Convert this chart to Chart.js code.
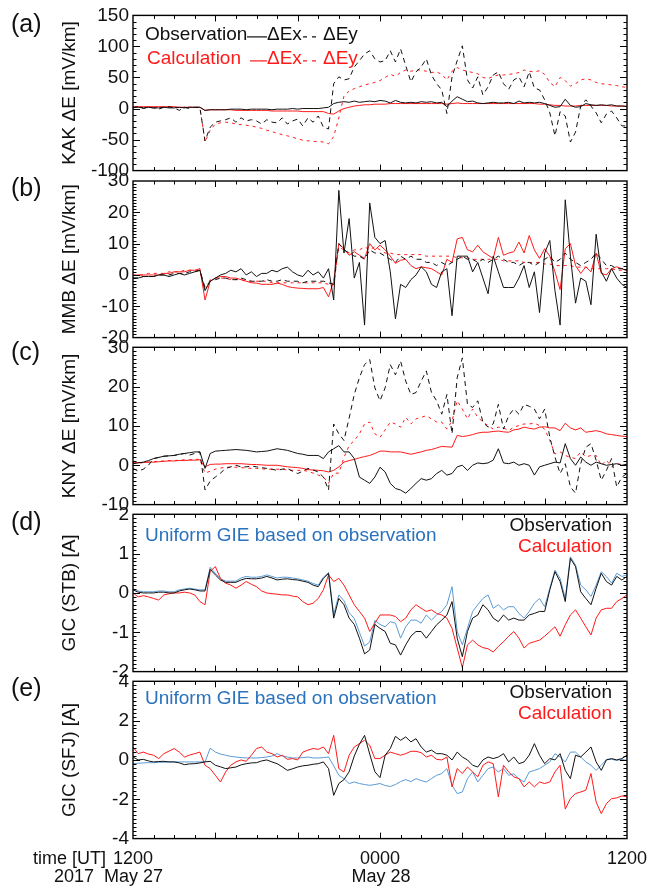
<!DOCTYPE html>
<html>
<head>
<meta charset="utf-8">
<script src="https://cdn.jsdelivr.net/npm/chart.js@4.4.1/dist/chart.umd.min.js"></script>
<style>
  body { margin: 0; background: #fff; }
  #page { position: relative; width: 648px; height: 888px; overflow: hidden; font-family: "Liberation Sans", Arial, Helvetica, sans-serif; }
  canvas { position: absolute; left: 0; }
  .lbl { position: absolute; font-size: 18px; line-height: 18px; color: #111; white-space: pre; }
</style>
</head>
<body>
<div id="page">
  <canvas id="pa" width="648" height="186" style="top:0px"></canvas>
  <canvas id="pb" width="648" height="189" style="top:164px"></canvas>
  <canvas id="pc" width="648" height="189" style="top:331px"></canvas>
  <canvas id="pd" width="648" height="189" style="top:498px"></canvas>
  <canvas id="pe" width="648" height="189" style="top:665px"></canvas>
</div>
<script>
const FONT = '"Liberation Sans", Arial, Helvetica, sans-serif';

// sample times, hours after 0000 UT May 27 (every 15 min)
const hours = Array.from({ length: 97 }, (_, i) => 12 + i / 4);

// bottom time axis
const timeTicks = [12, 24, 36];
const timeLabels = ['1200', '0000', '1200'];

// y tick values per panel
const aTicks = [-100, -50, 0, 50, 100, 150];
const bTicks = [-20, -10, 0, 10, 20, 30];
const cTicks = [-10, 0, 10, 20, 30];
const dTicks = [-2, -1, 0, 1, 2];
const eTicks = [-4, -2, 0, 2, 4];

// (a) KAK  [mV/km]
const aObsEx = [
  2, 2, 1, 2,   1, 1, 2, 1,   1, 2, 1, 2,   2, 2, -3, -2,
  -2, -2, -2, -1,   -1, -1, -2, -1,   -1, -1, -1, -2,   -1, -1, -1, 0,
  -1, 0, 0, 0,   0, 1, 2, 8,   10, 11, 10, 12,   10, 11, 12, 11,
  13, 12, 9, 13,   10, 9, 10, 9,   11, 10, 11, 9,   10, 3, 12, 19,
  15, 11, 12, 9,   8, 9, 10, 9,   9, 10, 8, 12,   9, 10, 9, 10,
  8, 5, 2, 3,   15, 5, 2, 3,   8, 6, 5, 6,   5, 6, 4, 4,
  3];
const aObsEy = [
  1, 3, 0, 2,   1, -1, 2, 3,   1, -3, 2, 0,   2, 1, -52, -30,
  -22, -20, -18, -15,   -22, -15, -20, -18,   -20, -25, -18, -22,   -23, -15, -25, -20,
  -17, -28, -15, -22,   -12, -30, -33, 40,   51, 46, 48, 67,   77, 88, 93, 80,
  75, 77, 93, 75,   96, 69, 43, 59,   67, 80, 54, 40,   30, -8, 51, 77,
  101, 46, 33, 51,   22, 35, 54, 59,   40, 31, 46, 51,   35, 59, 33, 30,
  14, -7, -44, -5,   -12, -54, -38, 4,   14, 4, -7, -23,   -9, -4, -15, -28,
  -28];
const aCalcEx = [
  3, 3, 3, 3,   3, 3, 3, 3,   3, 2, 2, 2,   2, 2, -3, -2,
  -2, -2, -2, -2,   -3, -3, -3, -3,   -3, -3, -3, -4,   -4, -4, -4, -4,
  -4, -5, -5, -5,   -5, -5, -8, -9,   -4, 0, 2, 4,   5, 6, 6, 7,
  7, 7, 8, 8,   8, 8, 8, 8,   8, 8, 8, 8,   8, 7, 8, 9,
  8, 8, 8, 8,   8, 8, 8, 8,   8, 8, 8, 8,   8, 8, 8, 7,
  7, 6, 5, 5,   4, 4, 4, 5,   5, 5, 5, 5,   5, 4, 4, 4,
  4];
const aCalcEy = [
  2, 2, 2, 2,   2, 1, 2, 2,   2, 1, 2, 2,   2, 2, -54, -35,
  -25, -23, -22, -23,   -25, -26, -27, -28,   -30, -32, -35, -37,   -40, -42, -44, -46,
  -49, -51, -52, -53,   -53, -54, -57, -45,   -15, 20, 28, 32,   35, 38, 40, 42,
  45, 50, 55, 52,   58, 62, 60, 62,   62, 60, 58, 59,   55, 46, 60, 66,
  62, 60, 58, 56,   50, 48, 52, 54,   54, 55, 56, 58,   62, 60, 59, 61,
  55, 42, 35, 50,   45, 36, 40, 46,   48, 46, 42, 40,   39, 38, 37, 35,
  34];

// (b) MMB  [mV/km]
const bObsEx = [
  -1, -1, -0.5, -0.5,   -0.5, 0, 0, -0.5,   0, 0.5, 0, 0.5,   1, 1.5, -5, -2,
  -1, 0, 0.5, 1.5,   1, 2, 0, 1,   -0.5, 0.5, 0.5, 1.5,   1, 2, 2.5, 1,
  0, -0.5, 1.5, 0,   1, -1, 2, -8,   27, 7, 18, -1,   4, -16, 23, 12,
  10, 11, 1, -14,   -3, -4, -1.5, 0,   2.6, 1, -3, -4,   1, 2, -13, 6,
  6, 6, 1, 4,   -1, -6, 6, 1,   -4, -4, -4, -1,   3, -4, 1, -12,
  7, 11, -5, -16,   24, 6, -9, -1,   -2, -9.5, 13, 1,   -2, 2, -1, -3,
  -4];
const bObsEy = [
  -1, -1, -0.5, -0.5,   -0.5, 0, 0, 0,   0.5, 0.5, 0.5, 1,   1, 1.5, -4, -2,
  -1.5, -1, -1, -1.5,   -1.5, -1, -1.5, -2,   -2, -2, -1.5, -2,   -2, -1.5, -2, -2,
  -2, -2.5, -2, -2,   -2, -2, -2.5, -3,   10, 8, 7, 6,   6, 5, 8, 7,
  7, 6, 5, 4,   6, 5, 6, 5,   5, 4, 4, 3,   4, 3, 4, 5,
  6, 5, 5, 4,   5, 4, 5, 6,   5, 4, 4, 3,   4, 4, 3, 4,
  5, 6, 4, 5,   7, 5, 4, 3,   4, 5, 7, 5,   3, 3, 2, 2,
  2];
const bCalcEx = [
  -0.2, 0, 0, 0,   0, 0, 0.5, 0.5,   1, 1, 1, 1.5,   1.5, 2, -8, -2,
  -1, -0.5, -0.5, -1,   -1, -1.5, -2, -2.5,   -2.6, -3, -3, -3,   -2.6, -3, -3.7, -4,
  -4.2, -4.3, -4.4, -4.4,   -4.4, -4, -7, -2,   10, 8.4, 6.3, 7.4,   6.3, 5.3, 10, 8,
  9.5, 8, 6, 3.7,   4.7, 5, 3, 2,   2.6, 2.3, 2, 1,   0, 5, 4, 11.5,
  12, 8, 7.4, 9.5,   7.4, 6.3, 5.3, 12,   6.3, 7, 7.4, 10.5,   7, 12.6, 8, 5.3,
  8.4, 6, 1, -4.7,   8.4, 10, 3, 0.5,   2.6, 1, 7, 0.5,   0, 2, 2.6, 2,
  1.3];
const bCalcEy = [
  0, 0, 0, 0.5,   0.5, 0.5, 0.5, 1,   1, 1, 1.5, 1.5,   1.5, 1.5, -5, -1.5,
  -1, -1, -1, -1.5,   -1.5, -1.5, -2, -2,   -2, -2, -2, -2.5,   -2.5, -2.5, -2.5, -2.5,
  -2.5, -2.5, -2.5, -2.5,   -2.5, -2.5, -3, -3,   9, 8, 7, 8,   8, 9, 8, 9,
  8, 7, 7, 6.5,   6.5, 6.5, 6.5, 6.5,   6.5, 6, 6, 6,   6, 6, 6, 5.5,
  5.5, 5.5, 5, 5,   5, 5, 5, 5,   4.5, 4.5, 4.5, 4.5,   4, 4, 4, 4,
  3.5, 3.5, 3, 3,   3, 3, 2.5, 2.5,   2.5, 2, 2, 2,   2, 2, 1.5, 1.5,
  1.5];

// (c) KNY  [mV/km]
const cObsEx = [
  0.4, 0.6, 0.8, 1.2,   1.7, 2, 2.3, 2.4,   2.5, 2.8, 3, 3.2,   3.4, 3.4, -0.8, 3,
  3.6, 3.7, 3.8, 3.9,   4, 3.9, 3.8, 3.6,   3.4, 3.5, 3.6, 3.9,   4.2, 4, 3.8, 3.4,
  3, 2.8, 2.5, 2.5,   2.5, 1.7, 3.4, 4.2,   5, 3.4, 3.4, 1.7,   -3, -3.8, -4.6, -3,
  -0.5, -1.7, -4.6, -5.9,   -6.3, -7.1, -5.9, -4.6,   -3.4, -3.8, -3.4, -2.1,   -1.3, -2.5, -2.1, -0.4,
  0, -1.3, 0, 0.6,   0.4, 0.6, 1.3, 4.2,   0.6, 0.4, 0.8, 0,   0.4, 0, -2.5, -0.4,
  0, 0.4, 0.8, 0.6,   5.5, 1.7, 0, 2.1,   0.8, 0, 0.8, 0.4,   0, 0.2, 0.4, 0,
  0.3];
const cObsEy = [
  -0.8, -1.5, -1, 0,   1.7, 2, 2.3, 2.4,   2.5, 2.8, 3, 2.6,   3, 3.4, -6.3, -4,
  -3, -2, -0.8, -0.4,   0, -0.4, -0.4, -0.2,   -0.4, -0.6, -0.8, -1,   -1.3, -1, -0.8, -1.5,
  -2.1, -1.5, -0.8, -1.2,   -1.7, -3, -6.3, 10.5,   8, 6.3, 12, 18,   22.3, 25.6, 26.9, 19.7,
  16.4, 19.7, 25.6, 23,   26.5, 21.4, 18, 18.5,   21.4, 24, 18.5, 16.4,   13, 18, 8, 22.3,
  27.3, 15.5, 14.7, 16.4,   10.9, 9.7, 10.5, 15.5,   9.2, 12.6, 14.3, 13,   15.5, 15, 14.3, 11.8,
  14.3, 7.1, 2.1, -2.1,   0.4, -5.5, -7.1, 0.4,   4.6, 5.5, 1.3, -3.8,   -1.3, 1.7, -5.5, -3,
  -2.1];
const cCalcEx = [
  0.6, 0.7, 0.7, 0.8,   0.8, 0.9, 1, 1.1,   1.1, 1.2, 1.2, 1.3,   1.3, 1.4, -0.4, 0.2,
  0.3, 0.3, 0.4, 0.4,   0.4, 0.4, 0.3, 0.2,   0.2, 0.1, 0, 0,   0, -0.2, -0.4, -0.5,
  -0.6, -0.8, -1.1, -1.2,   -1.3, -1.4, -1.7, -1.3,   -0.4, 0.8, 1.2, 1.5,   1.9, 2.2, 2.5, 3,
  3.6, 3.6, 3.4, 3.4,   3.4, 3.1, 2.8, 3.1,   3.4, 3.8, 4, 4.4,   4.8, 4.7, 4.6, 7.6,
  7.3, 7.5, 7.8, 8.2,   8.4, 8.4, 8.6, 8.7,   8.5, 8.4, 9, 9.2,   9.7, 9.4, 9.2, 9.7,
  9.8, 9.5, 9.5, 8.8,   10.7, 9.5, 9, 9.5,   8.4, 8.6, 8.8, 8.5,   8, 7.8, 7.6, 7.4,
  7.3];
const cCalcEy = [
  0.5, 0.5, 0.7, 0.8,   0.9, 1, 1.1, 1.2,   1.2, 1.3, 1.4, 1.4,   1.5, 1.5, -2, -1.5,
  -1, -0.7, -0.5, -0.5,   -0.5, -0.6, -0.7, -0.8,   -0.8, -0.9, -1, -1,   -1, -1, -1.2, -1.3,
  -1.3, -1.3, -1.5, -2,   -2.5, -3, -4.6, -2,   -2, 2, 5, 6.3,   8, 10.5, 11, 8,
  7.1, 9, 11, 10.5,   9.7, 12.2, 10.5, 11.8,   12.2, 12.6, 11.8, 11,   11, 9.2, 11.3, 16.4,
  14.3, 11.8, 14.3, 12.2,   11, 10.1, 9.2, 9.7,   9.5, 8.8, 9.7, 10.1,   10.5, 10.5, 10.7, 10.1,
  9.2, 6.3, 2.9, 3.4,   2.5, 2, 1.7, 3.4,   2.1, 2.5, 2.5, 0,   1.3, -0.4, 0.4, 0.2,
  0];

// (d) GIC STB [A]
const dObs = [
  0.08, 0.02, 0, 0,   0, 0.02, 0.02, 0,   0, 0.05, 0.08, 0.1,   0.08, 0.05, 0.05, 0.6,
  0.46, 0.33, 0.27, 0.27,   0.27, 0.33, 0.37, 0.36,   0.36, 0.38, 0.42, 0.38,   0.33, 0.35, 0.36, 0.34,
  0.33, 0.3, 0.27, 0.2,   0.16, 0.37, 0.5, -0.64,   -0.14, -0.3, -0.64, -0.8,   -1.15, -1.55, -1.45, -0.8,
  -0.9, -0.98, -1.28, -1.32,   -1.58, -1.32, -1.1, -0.98,   -0.98, -1.15, -0.98, -0.81,   -0.69, -0.56, -0.22, -1.15,
  -1.62, -0.98, -0.64, -0.56,   -0.3, -0.43, -0.64, -0.73,   -0.56, -0.69, -0.64, -0.69,   -0.69, -0.56, -0.52, -0.47,
  -0.47, 0.08, 0.54, 0.29,   -0.22, 0.88, 0.67, 0.03,   -0.14, -0.3, 0.12, 0.5,   0.29, 0.2, 0.42, 0.33,
  0.42];
const dUni = [
  0.1, 0.05, 0.03, 0.03,   0.03, 0.05, 0.05, 0.03,   0.03, 0.08, 0.1, 0.12,   0.1, 0.08, 0.08, 0.65,
  0.5, 0.36, 0.3, 0.3,   0.3, 0.38, 0.42, 0.4,   0.4, 0.42, 0.46, 0.42,   0.38, 0.4, 0.4, 0.38,
  0.36, 0.33, 0.3, 0.24,   0.2, 0.4, 0.52, -0.55,   -0.05, -0.2, -0.5, -0.65,   -1.0, -1.35, -1.25, -0.7,
  -0.8, -0.86, -0.73, -0.77,   -1.15, -0.86, -0.69, -0.69,   -0.77, -0.56, -0.69, -0.56,   -0.47, -0.3, 0.16, -0.98,
  -1.32, -0.9, -0.47, -0.3,   -0.14, -0.05, -0.39, -0.3,   -0.43, -0.35, -0.35, -0.52,   -0.64, -0.47, -0.26, -0.14,
  -0.35, 0.12, 0.58, 0.37,   -0.14, 0.92, 0.71, 0.2,   0.08, -0.09, 0.2, 0.54,   0.42, 0.25, 0.5, 0.42,
  0.46];
const dCalc = [
  0, -0.1, -0.07, -0.1,   -0.14, -0.18, -0.05, -0.02,   0, 0, 0.02, 0,   -0.05, -0.22, -0.3, 0.55,
  0.67, 0.37, 0.25, 0.2,   0.12, 0.2, 0.29, 0.22,   0.16, 0.05, 0, -0.02,   -0.03, -0.05, -0.05, -0.08,
  -0.1, -0.22, -0.3, -0.26,   -0.14, 0.08, 0.46, 0.29,   0.37, 0.2, -0.05, -0.3,   -0.47, -0.64, -0.98, -0.77,
  -0.56, -0.56, -0.56, -0.6,   -0.73, -0.64, -0.43, -0.3,   -0.39, -0.47, -0.43, -0.52,   -0.56, -0.64, -0.9, -1.4,
  -1.9, -1.32, -1.2, -1.32,   -1.39, -1.42, -1.5, -1.36,   -1.24, -1.1, -0.98, -1.15,   -1.4, -1.28, -1.24, -1.2,
  -1.1, -0.98, -0.86, -1.1,   -0.81, -0.56, -0.43, -0.64,   -0.86, -1.07, -0.64, -0.43,   -0.39, -0.39, -0.22, -0.14,
  -0.05];

// (e) GIC SFJ [A]
const eObs = [
  0.15, 0, 0.03, -0.05,   -0.1, -0.08, -0.07, -0.1,   -0.1, -0.15, -0.24, -0.2,   -0.19, -0.15, -0.1, -0.07,
  -0.27, -0.35, -0.44, -0.4,   -0.36, -0.25, -0.19, -0.15,   -0.14, -0.05, 0, -0.1,   -0.19, -0.35, -0.53, -0.45,
  -0.36, -0.3, -0.27, -0.22,   -0.19, -0.1, -0.44, -1.8,   -1.2, -1.0, -0.6, 0.2,   0.8, 1.25, 0.3, -0.6,
  -0.9, 0.24, 0.58, 1.2,   1.0, 1.17, 0.92, 1.08,   0.66, 0.4, 0.5, 0.32,   0.32, 0.24, 0, 0.4,
  0.15, 0, -0.27, -0.36,   0, 0.15, 0.07, 0.15,   0.32, -0.1, 0.15, -0.19,   -0.1, 0.24, 0.83, 0.24,
  -0.19, 0.07, 0, 0.32,   -0.53, -0.95, 0.24, 0.15,   0.4, 0.66, -0.1, -0.53,   0, 0.07, 0, 0.07,
  0.24];
const eUni = [
  -0.19, -0.17, -0.15, -0.14,   -0.14, -0.12, -0.12, -0.1,   -0.1, -0.1, -0.1, -0.1,   -0.1, -0.1, -0.1, 0.6,
  0.4, 0.3, 0.24, 0.18,   0.15, 0.12, 0.1, 0.1,   0.1, 0.12, 0.15, 0.2,   0.32, 0.2, 0.15, 0.1,
  0.1, 0.12, 0.15, 0.1,   0.1, 0.12, 0.15, -0.3,   -0.78, -0.95, -1.2, -1.12,   -1.2, -1.25, -1.29, -1.25,
  -1.2, -1.3, -1.35, -1.25,   -1.1, -1.0, -1.1, -0.95,   -1.05, -1.12, -0.95, -0.78,   -0.69, -0.44, -1.29, -1.71,
  -1.63, -0.95, -0.61, -1.12,   -0.78, -0.44, -0.36, -0.61,   -0.44, -0.78, -0.7, -0.95,   -1.12, -0.61, -0.53, -0.44,
  -0.27, -0.1, 0.32, 0.15,   -0.1, 0.4, 0.4, 0.15,   -0.1, -0.27, -0.53, -0.27,   0.03, 0.03, -0.02, 0.02,
  -0.02];
const eCalc = [
  0.66, 0.32, 0.4, 0.3,   0.24, 0.07, 0.32, 0.45,   0.58, 0.4, 0.15, 0.25,   0.32, 0.4, -0.27, -0.44,
  -0.78, -1.12, -0.61, -0.27,   -0.1, 0, -0.07, 0.24,   0.58, 0.66, 0.4, 0.32,   0.15, 0.24, 0.03, 0.07,
  0, 0.4, 0.5, 0.58,   0.54, 0.66, 0.32, 1.25,   -0.44, -0.61, 0.24, 0.66,   0.83, 1.0, 0.75, 0.07,
  0.07, 0.24, 0.4, 0.32,   0.24, 0.32, 0.44, 0.44,   0.37, 0.15, 0.24, 0.03,   0, 0.15, -1.37, -0.44,
  -0.69, -0.36, -0.61, -0.86,   -0.27, -0.1, -0.19, -1.88,   -0.27, -0.61, -0.86, -0.95,   -1.37, -1.12, -1.37, -1.12,
  -1.2, -1.12, -0.61, -0.27,   -2.5, -1.97, -1.71, -1.63,   -1.54, -0.69, -2.14, -2.73,   -2.22, -1.97, -1.93, -1.83,
  -1.88];

const BLACK = '#111';
const RED = '#ff1a1a';
const BLUE = '#5b9bd5';
const BLUE_TEXT = '#2a72bd';

// frame with inward ticks on all four sides (IDL style)
const framePlugin = {
  id: 'frame',
  afterDraw(chart, args, opts) {
    const { ctx, chartArea: ca, scales: { x, y } } = chart;
    ctx.save();
    ctx.strokeStyle = '#000';
    ctx.lineWidth = 1;
    ctx.beginPath();
    const majors = y.ticks.map(t => t.value);
    const n = Math.round((y.max - y.min) / opts.minor);
    for (let i = 1; i < n; i++) {
      const v = y.min + i * opts.minor;
      const py = Math.round(y.getPixelForValue(v)) + 0.5;
      const len = majors.some(m => Math.abs(m - v) < 1e-6) ? 7 : 3.5;
      ctx.moveTo(ca.left, py); ctx.lineTo(ca.left + len, py);
      ctx.moveTo(ca.right, py); ctx.lineTo(ca.right - len, py);
    }
    for (let h = 13; h < 36; h++) {
      const px = Math.round(x.getPixelForValue(h)) + 0.5;
      const len = h % 4 === 0 ? 6 : 3.5;
      ctx.moveTo(px, ca.top); ctx.lineTo(px, ca.top + len);
      ctx.moveTo(px, ca.bottom); ctx.lineTo(px, ca.bottom - len);
    }
    ctx.stroke();
    ctx.lineWidth = 1.4;
    ctx.strokeRect(ca.left, ca.top, ca.right - ca.left, ca.bottom - ca.top);
    ctx.restore();
  }
};

// panel letter, legend texts and legend line keys
const notesPlugin = {
  id: 'notes',
  afterDraw(chart, args, opts) {
    const { ctx, chartArea: ca } = chart;
    ctx.save();
    ctx.textBaseline = 'middle';
    ctx.textAlign = 'left';
    ctx.fillStyle = BLACK;
    ctx.font = '25px ' + FONT;
    ctx.fillText(opts.letter, 11, ca.top + opts.letterDy);
    ctx.font = '19px ' + FONT;
    (opts.texts || []).forEach(t => {
      ctx.fillStyle = t.color;
      ctx.textAlign = t.align || 'left';
      ctx.fillText(t.text, t.x, ca.top + t.dy);
    });
    (opts.keys || []).forEach(k => {
      ctx.strokeStyle = k.color;
      ctx.lineWidth = 1.2;
      ctx.setLineDash(k.dash || []);
      ctx.beginPath();
      ctx.moveTo(k.x1, ca.top + k.dy);
      ctx.lineTo(k.x2, ca.top + k.dy);
      ctx.stroke();
    });
    ctx.restore();
  }
};

const PLOT_H = 158.5;

function makePanel(p) {
  const canvas = document.getElementById(p.id);
  const padTop = p.plotTop - p.canvasTop;
  const padBottom = canvas.height - padTop - PLOT_H;
  return new Chart(canvas, {
    type: 'line',
    data: {
      labels: hours,
      datasets: p.series.map(s => ({
        data: s.data,
        borderColor: s.color,
        borderWidth: 1,
        borderDash: s.dash || [],
        pointRadius: 0,
        tension: 0,
        fill: false
      }))
    },
    options: {
      responsive: false,
      animation: false,
      events: [],
      layout: { padding: { top: padTop, bottom: padBottom, left: 0, right: 21 } },
      plugins: {
        legend: { display: false },
        tooltip: { enabled: false },
        frame: { minor: p.minor },
        notes: p.notes
      },
      scales: {
        x: { type: 'linear', min: 12, max: 36, display: false },
        y: {
          min: p.ticks[0],
          max: p.ticks[p.ticks.length - 1],
          afterBuildTicks: s => { s.ticks = p.ticks.map(v => ({ value: v })); },
          afterFit: s => { s.width = 133; },
          grid: { display: false, drawTicks: false },
          border: { display: false },
          ticks: { color: BLACK, padding: 4, font: { family: FONT, size: 19 } },
          title: {
            display: true,
            text: p.title,
            color: BLACK,
            font: { family: FONT, size: 19 },
            padding: { top: 58.6, bottom: 0 }
          }
        }
      }
    },
    plugins: [framePlugin, notesPlugin]
  });
}

const panels = [
  {
    id: 'pa', canvasTop: 0, plotTop: 13.5, ticks: aTicks, minor: 10, title: 'KAK ΔE [mV/km]',
    series: [
      { data: aObsEx, color: BLACK },
      { data: aObsEy, color: BLACK, dash: [5, 4] },
      { data: aCalcEx, color: RED },
      { data: aCalcEy, color: RED, dash: [3, 4] }
    ],
    notes: {
      letter: '(a)', letterDy: 10,
      texts: [
        { text: 'Observation', x: 145, dy: 19.5, color: BLACK },
        { text: 'ΔEx', x: 267, dy: 19.5, color: BLACK },
        { text: 'ΔEy', x: 323, dy: 19.5, color: BLACK },
        { text: 'Calculation', x: 147, dy: 43.5, color: RED },
        { text: 'ΔEx', x: 267, dy: 43.5, color: RED },
        { text: 'ΔEy', x: 323, dy: 43.5, color: RED }
      ],
      keys: [
        { x1: 247, x2: 267, dy: 21.5, color: BLACK },
        { x1: 303, x2: 321, dy: 21.5, color: BLACK, dash: [4, 5] },
        { x1: 250, x2: 267, dy: 45.5, color: RED },
        { x1: 303, x2: 321, dy: 45.5, color: RED, dash: [4, 5] }
      ]
    }
  },
  {
    id: 'pb', canvasTop: 164, plotTop: 181, ticks: bTicks, minor: 1, title: 'MMB ΔE [mV/km]',
    series: [
      { data: bObsEx, color: BLACK },
      { data: bObsEy, color: BLACK, dash: [5, 4] },
      { data: bCalcEx, color: RED },
      { data: bCalcEy, color: RED, dash: [3, 4] }
    ],
    notes: { letter: '(b)', letterDy: 8 }
  },
  {
    id: 'pc', canvasTop: 331, plotTop: 347.3, ticks: cTicks, minor: 1, title: 'KNY ΔE [mV/km]',
    series: [
      { data: cObsEx, color: BLACK },
      { data: cObsEy, color: BLACK, dash: [5, 4] },
      { data: cCalcEx, color: RED },
      { data: cCalcEy, color: RED, dash: [3, 4] }
    ],
    notes: { letter: '(c)', letterDy: 6 }
  },
  {
    id: 'pd', canvasTop: 498, plotTop: 514.3, ticks: dTicks, minor: 0.1, title: 'GIC (STB) [A]',
    series: [
      { data: dObs, color: BLACK },
      { data: dCalc, color: RED },
      { data: dUni, color: BLUE }
    ],
    notes: {
      letter: '(d)', letterDy: 9,
      texts: [
        { text: 'Uniform GIE based on observation', x: 145, dy: 21, color: BLUE_TEXT },
        { text: 'Observation', x: 612, dy: 11.5, color: BLACK, align: 'right' },
        { text: 'Calculation', x: 612, dy: 32.5, color: RED, align: 'right' }
      ]
    }
  },
  {
    id: 'pe', canvasTop: 665, plotTop: 681.3, ticks: eTicks, minor: 0.2, title: 'GIC (SFJ) [A]',
    series: [
      { data: eObs, color: BLACK },
      { data: eCalc, color: RED },
      { data: eUni, color: BLUE }
    ],
    notes: {
      letter: '(e)', letterDy: 7.5,
      texts: [
        { text: 'Uniform GIE based on observation', x: 145, dy: 17, color: BLUE_TEXT },
        { text: 'Observation', x: 612, dy: 11, color: BLACK, align: 'right' },
        { text: 'Calculation', x: 612, dy: 32.5, color: RED, align: 'right' }
      ]
    }
  }
];

const charts = panels.map(makePanel);

// time labels under the last panel, placed with its x scale
const page = document.getElementById('page');
const xs = charts[4].scales.x;
function addLabel(text, left, top, shift) {
  const d = document.createElement('div');
  d.className = 'lbl';
  d.textContent = text;
  d.style.left = left + 'px';
  d.style.top = top + 'px';
  if (shift) d.style.transform = 'translateX(' + shift + ')';
  page.appendChild(d);
}
timeTicks.forEach((h, i) => addLabel(timeLabels[i], xs.getPixelForValue(h), 849, '-50%'));
addLabel('time [UT]', xs.getPixelForValue(12) - 27, 849, '-100%');
addLabel('2017  May 27', xs.getPixelForValue(12) + 30, 867, '-100%');
addLabel('May 28', xs.getPixelForValue(24) + 1, 867, '-50%');
</script>
</body>
</html>
